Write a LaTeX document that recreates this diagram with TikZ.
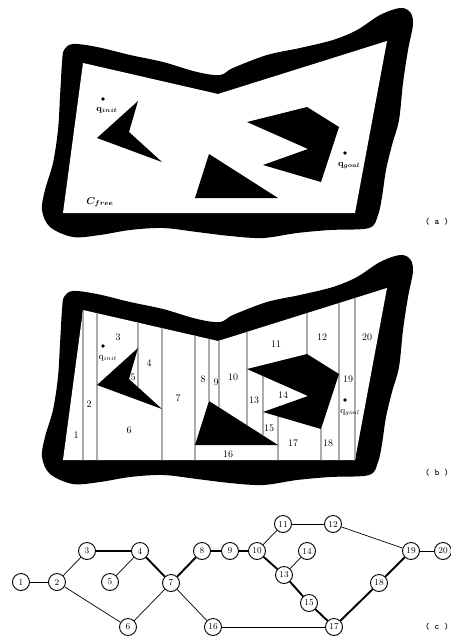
\documentclass[tikz,border=0pt]{standalone}
\usepackage{amsmath}
\usepackage{bm}

\tikzset{
  cutline/.style={gray!65, line width=1.1pt},
  cellnum/.style={inner sep=0pt, font=\fontsize{10}{12}\selectfont},
  vtx/.style={circle, draw, line width=0.9pt, minimum size=17pt, inner sep=0pt, font=\fontsize{9}{10}\selectfont},
  arc/.style={line width=0.7pt},
  patharc/.style={line width=1.9pt},
  panellbl/.style={inner sep=0pt, font=\ttfamily\bfseries\fontsize{9}{10}\selectfont},
}

\begin{document}
\begin{tikzpicture}[x=1pt, y=-1pt]
\useasboundingbox (0,0) rectangle (450,637);

\foreach \dy in {0,247} {
  \begin{scope}[shift={(0,\dy)}]
    \fill[black] plot[smooth cycle, tension=0.55] coordinates {
      (73,44) (97,47) (130,55) (163,62) (197,72) (220,75) (233,68) (267,55)
      (300,48) (333,40) (357,30) (380,15) (400,8) (410,12) (413,24) (408,50)
      (403,83) (399,120) (392,145) (386,170) (382,197) (378,215) (369,228)
      (330,230) (297,233) (263,238) (230,236) (197,232) (163,228) (130,230)
      (100,235) (73,237) (50,227) (42,210) (45,190) (53,163) (58,130)
      (60,97) (62,63) (64,50)};
    \fill[white] (83,63) -- (218,94) -- (387,41) -- (355,213) -- (63,213) -- cycle;
    \ifnum\dy>0
      \begin{scope}
        \clip (83,63) -- (218,94) -- (387,41) -- (355,213) -- (63,213) -- cycle;
        \foreach \x/\ya/\yb in {83/0/220, 97/0/220, 138/0/140, 162/0/220,
            195/0/220, 209/0/154, 219/0/160, 247/0/178, 263/129/188,
            278/169/220, 307/0/107, 321/182/220, 339/0/220, 355/0/220} {
          \draw[cutline] (\x,\ya) -- (\x,\yb);
        }
      \end{scope}
    \fi
    \fill[black] (138,101) -- (129,132) -- (162,162) -- (97,138) -- cycle;
    \fill[black] (209,154) -- (195,198) -- (278,198) -- cycle;
    \fill[black] (247,122) -- (307,107) -- (339,127) -- (321,182) -- (263,165) -- (308,149) -- cycle;
    \fill[black] (103,99) circle (1.9);
    \fill[black] (345,153) circle (1.9);
  \end{scope}
}

\node[inner sep=0pt, font=\fontsize{9}{10}\selectfont] (qinita) at (107,110) {$\mathbf{q}_{\bm{init}}$};
\node[inner sep=0pt, font=\fontsize{9}{10}\selectfont] (qgoala) at (349,166) {$\mathbf{q}_{\bm{goal}}$};
\node[inner sep=0pt, font=\fontsize{10}{12}\selectfont] (cfree) at (100,202) {$\bm{C}_{\bm{free}}$};

\node[inner sep=0pt, font=\fontsize{9}{10}\selectfont] (qinitb) at (108,358) {$\mathrm{q}_{init}$};
\node[inner sep=0pt, font=\fontsize{9}{10}\selectfont] (qgoalb) at (350,413) {$\mathrm{q}_{goal}$};

\foreach \n/\x/\y in {1/76/435, 2/89/404, 3/118/337, 4/149/363, 5/133/377,
    6/129/430, 7/178/398, 8/203/379, 9/216/382, 10/233/377, 11/276/344,
    12/322/337, 13/254/400, 14/283/395, 15/269/428, 16/228/454, 17/293/443,
    18/328/443, 19/348/379, 20/367/337} {
  \node[cellnum] (c\n) at (\x,\y) {\n};
}

\foreach \n/\x/\y in {1/21/582, 2/57/582, 3/87/551, 4/140/551, 5/110/582,
    6/128/627, 7/171/583, 8/202/551, 9/230/551, 10/257/551, 11/283/524,
    12/333/524, 13/284/575, 14/307/551, 15/309/603, 16/213/627, 17/334/627,
    18/379/583, 19/411/551, 20/443/551} {
  \node[vtx] (v\n) at (\x,\y) {\n};
}

\foreach \a/\b in {1/2, 2/3, 2/6, 4/5, 6/7, 7/16, 10/11, 11/12, 12/19,
    13/14, 16/17, 19/20} {
  \draw[arc] (v\a) -- (v\b);
}
\foreach \a/\b in {3/4, 4/7, 7/8, 8/9, 9/10, 10/13, 13/15, 15/17, 17/18, 18/19} {
  \draw[patharc] (v\a) -- (v\b);
}

\node[panellbl] (lbla) at (437,222) {( a )};
\node[panellbl] (lblb) at (437,473) {( b )};
\node[panellbl] (lblc) at (437,627) {( c )};
\end{tikzpicture}
\end{document}
